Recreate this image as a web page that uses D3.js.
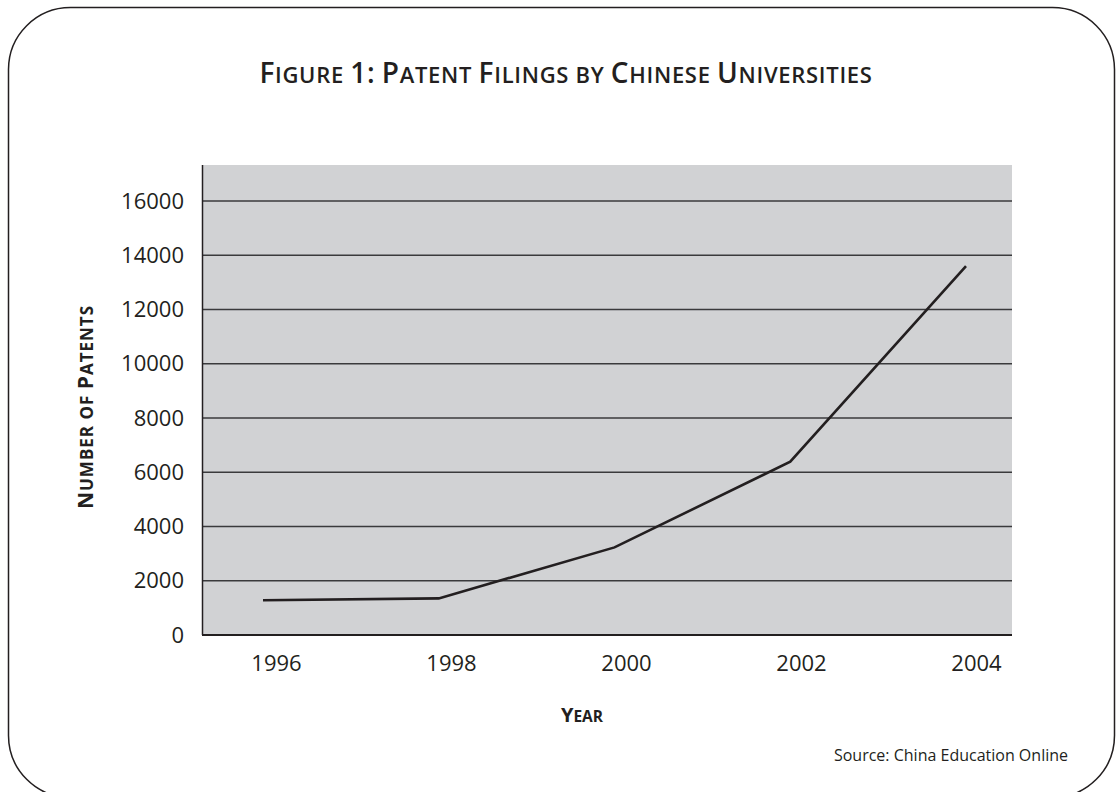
<!DOCTYPE html>
<html>
<head>
<meta charset="utf-8">
<script src="https://cdn.jsdelivr.net/npm/d3@7"></script>
<style>
  html, body { margin: 0; padding: 0; background: #fff; }
  svg { display: block; font-family: "Open Sans", sans-serif; }
</style>
</head>
<body>
<svg id="chart" width="1116" height="792"></svg>
<script>
// данные
const years = ["1996", "1998", "2000", "2002", "2004"];
const patents = [1280, 1350, 3230, 6390, 13600];
const yTicks = [0, 2000, 4000, 6000, 8000, 10000, 12000, 14000, 16000];

const svg = d3.select("#chart");

const plot = { left: 203, right: 1012, top: 165, bottom: 635 };

// капитель вручную: первая буква слова крупно, остальные заглавными поменьше
function smallCaps(sel, str, big, small) {
    const parts = [];
    str.split(" ").forEach((w, wi) => {
        if (wi > 0) parts.push({ t: " ", s: small });
        const first = w[0];
        const rest = w.slice(1);
        if (first === first.toUpperCase() && /[A-Za-z0-9]/.test(first)) {
            parts.push({ t: first, s: big });
            if (rest) parts.push({ t: rest.toUpperCase(), s: /^[0-9:]+$/.test(rest) ? big : small });
        } else {
            parts.push({ t: w.toUpperCase(), s: small });
        }
    });
    sel.selectAll("tspan")
        .data(parts)
        .join("tspan")
        .style("font-size", d => d.s + "px")
        .text(d => d.t);
    return sel;
}

// рамка со скруглёнными углами
svg.append("rect")
    .attr("x", 8.5)
    .attr("y", 7.5)
    .attr("width", 1106)
    .attr("height", 790)
    .attr("rx", 62)
    .attr("fill", "none")
    .attr("stroke", "#231f20")
    .attr("stroke-width", 1.5);

// Заголовок
svg.append("text")
    .attr("x", 566)
    .attr("y", 83)
    .attr("text-anchor", "middle")
    .style("font-weight", 600)
    .style("letter-spacing", "0.7px")
    .attr("fill", "#231f20")
    .call(smallCaps, "Figure 1: Patent Filings by Chinese Universities", 28, 22);

// шкалы: линия по точкам, подписи лет немного смещены, как в оригинале
const x = d3.scalePoint()
    .domain(years)
    .range([263, 966]);

const xLabels = d3.scalePoint()
    .domain(years)
    .range([276, 976]);

const y = d3.scaleLinear()
    .domain([0, 16000])
    .range([plot.bottom, 201]);

// фон области графика
svg.append("rect")
    .attr("x", plot.left)
    .attr("y", plot.top)
    .attr("width", plot.right - plot.left)
    .attr("height", plot.bottom - plot.top)
    .attr("fill", "#d1d2d4");

// линии сетки
svg.append("g")
    .selectAll("line")
    .data(yTicks.filter(d => d > 0))
    .join("line")
    .attr("x1", plot.left)
    .attr("x2", plot.right)
    .attr("y1", d => y(d))
    .attr("y2", d => y(d))
    .attr("stroke", "#3a3a3c")
    .attr("stroke-width", 1.4);

// ось Y
const yAxis = svg.append("g")
    .attr("transform", `translate(${plot.left},0)`)
    .call(d3.axisLeft(y).tickValues(yTicks).tickSize(0).tickPadding(19).tickFormat(d3.format("d")));
yAxis.select(".domain").remove();
yAxis.selectAll("text")
    .style("font-size", "22px")
    .style("font-family", "'Open Sans', sans-serif")
    .attr("fill", "#231f20");

svg.append("line")
    .attr("x1", plot.left - 0.5)
    .attr("x2", plot.left - 0.5)
    .attr("y1", plot.top)
    .attr("y2", plot.bottom)
    .attr("stroke", "#231f20")
    .attr("stroke-width", 1.5);

// ось X
const xAxis = svg.append("g")
    .attr("transform", `translate(0,${plot.bottom})`)
    .call(d3.axisBottom(xLabels).tickSize(0).tickPadding(20));
xAxis.select(".domain").remove();
xAxis.selectAll("text")
    .style("font-size", "22px")
    .style("font-family", "'Open Sans', sans-serif")
    .attr("fill", "#231f20");

svg.append("line")
    .attr("x1", plot.left - 1)
    .attr("x2", plot.right)
    .attr("y1", plot.bottom)
    .attr("y2", plot.bottom)
    .attr("stroke", "#231f20")
    .attr("stroke-width", 2);

// линия данных
const line = d3.line()
    .x((d, i) => x(years[i]))
    .y(d => y(d));

svg.append("path")
    .datum(patents)
    .attr("d", line)
    .attr("fill", "none")
    .attr("stroke", "#231f20")
    .attr("stroke-width", 2.6)
    .attr("stroke-linejoin", "miter");

// подписи осей
svg.append("text")
    .attr("transform", "translate(93,407) rotate(-90)")
    .attr("text-anchor", "middle")
    .style("font-weight", 700)
    .style("letter-spacing", "1px")
    .attr("fill", "#231f20")
    .call(smallCaps, "Number of Patents", 21, 17);

svg.append("text")
    .attr("x", 582)
    .attr("y", 722)
    .attr("text-anchor", "middle")
    .style("font-weight", 700)
    .attr("fill", "#231f20")
    .call(smallCaps, "Year", 20, 15.5);

// источник
svg.append("text")
    .attr("x", 1068)
    .attr("y", 761)
    .attr("text-anchor", "end")
    .style("font-size", "16px")
    .attr("fill", "#231f20")
    .text("Source: China Education Online");
</script>
</body>
</html>
